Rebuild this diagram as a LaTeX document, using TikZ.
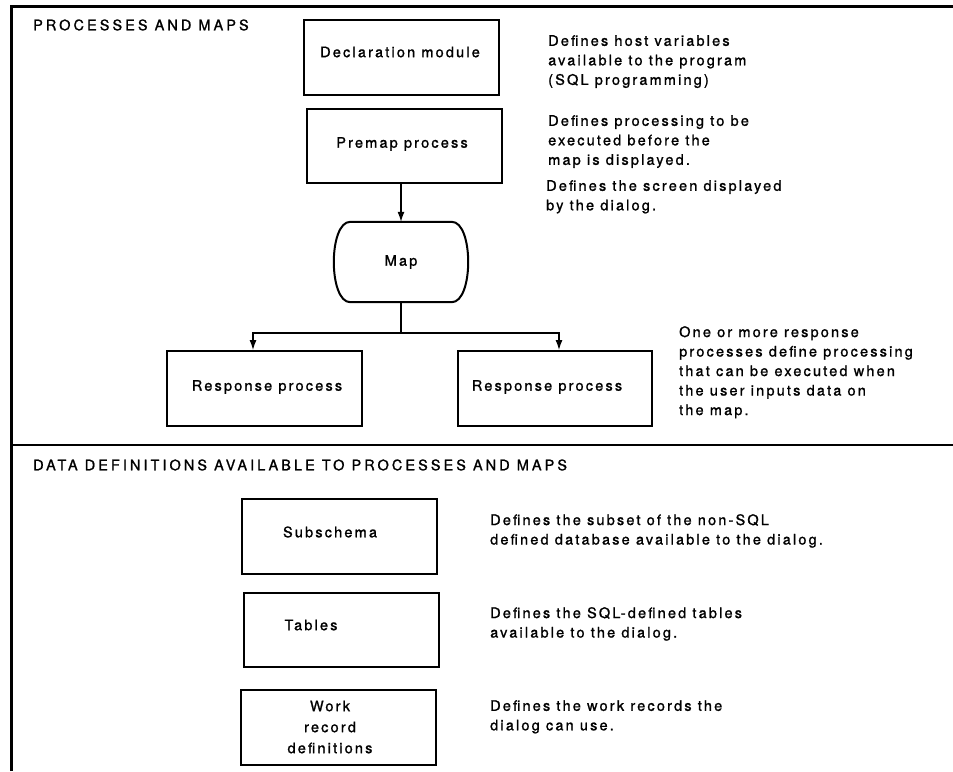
\documentclass[tikz,border=0pt]{standalone}
\usepackage{fontspec}
\setmainfont{TeX Gyre Heros}[LetterSpace=15, FakeBold=1.2]
\newfontfamily\headfont{TeX Gyre Heros}[LetterSpace=21, FakeBold=1.2]
\usetikzlibrary{arrows.meta}
\begin{document}
\begin{tikzpicture}[x=1pt,y=-1pt,
  every node/.style={font=\fontsize{14.5}{19.5}\selectfont, inner sep=0pt},
  procbox/.style={draw, line width=2pt, minimum width=195pt, minimum height=75pt},
  conn/.style={line width=1.2pt},
  arr/.style={conn, -{Latex[length=10pt,width=7pt]}},
  frame/.style={line width=3pt},
  head/.style={anchor=west, font=\headfont\fontsize{14.5}{19.5}\selectfont},
  note/.style={anchor=north west, align=left, font=\fontsize{14.5}{19.5}\selectfont}
]
\useasboundingbox (0,0) rectangle (953,771);

% outer frame and section divider
\draw[frame] (11,771) -- (11,6.5) -- (953,6.5);
\draw[line width=2.5pt] (11,445) -- (953,445);

% ---- processes and maps ----
\node[head] (t1) at (33,25) {PROCESSES AND MAPS};

\node[procbox] (decl) at (401.5,57.5) {};
\node (declt) at (400,52) {Declaration module};
\node[note] (decln) at (548,35)
  {Defines host variables\\available to the program\\(SQL programming)};

\node[procbox, minimum height=74pt] (premap) at (404.5,146) {};
\node (premapt) at (402,144) {Premap process};
\node[note] (premapn) at (548,115)
  {Defines processing to be\\executed before the\\map is displayed.};

% map: flat top and bottom, bulging sides
\node[minimum width=137pt, minimum height=80pt] (map) at (401,262) {Map};
\draw[line width=2pt]
  ([xshift=18pt]map.north west) -- ([xshift=-18pt]map.north east)
  .. controls ([xshift=4pt]map.north east) and ([xshift=4pt]map.south east) ..
  ([xshift=-18pt]map.south east) -- ([xshift=18pt]map.south west)
  .. controls ([xshift=-4pt]map.south west) and ([xshift=-4pt]map.north west) ..
  cycle;
\node[note] (mapn) at (546,180)
  {Defines the screen displayed\\by the dialog.};

\node[procbox] (resp1) at (264.5,388.5) {};
\node (resp1t) at (267,387) {Response process};
\node[procbox, minimum width=194pt] (resp2) at (555,388.5) {};
\node (resp2t) at (547,387) {Response process};
\node[note] (respn) at (679,326)
  {One or more response\\processes define processing\\that can be executed when\\the user inputs data on\\the map.};

% connectors
\draw[arr] (map.north |- premap.south) -- (map.north);
\coordinate (fork) at (map.south |- 0,333);
\draw[conn] (map.south) -- (fork);
\draw[arr] (fork) -| ([xshift=-11.5pt]resp1.north);
\draw[arr] (fork) -| ([xshift=4pt]resp2.north);

% ---- data definitions ----
\node[head] (t2) at (33,465) {DATA DEFINITIONS AVAILABLE TO PROCESSES AND MAPS};

\node[procbox] (sub) at (339.5,536.5) {};
\node (subt) at (330,532) {Subschema};
\node[note] (subn) at (490,514)
  {Defines the subset of the non-SQL\\defined database available to the dialog.};

\node[procbox, minimum height=74pt] (tab) at (341.5,630) {};
\node (tabt) at (311,625) {Tables};
\node[note] (tabn) at (490,607)
  {Defines the SQL-defined tables\\available to the dialog.};

\node[procbox] (work) at (338.5,727.5) {};
\node[align=center, font=\fontsize{14.5}{21}\selectfont] (workt) at (330,727)
  {Work\\record\\definitions};
\node[note] (workn) at (490,700)
  {Defines the work records the\\dialog can use.};
\end{tikzpicture}
\end{document}
